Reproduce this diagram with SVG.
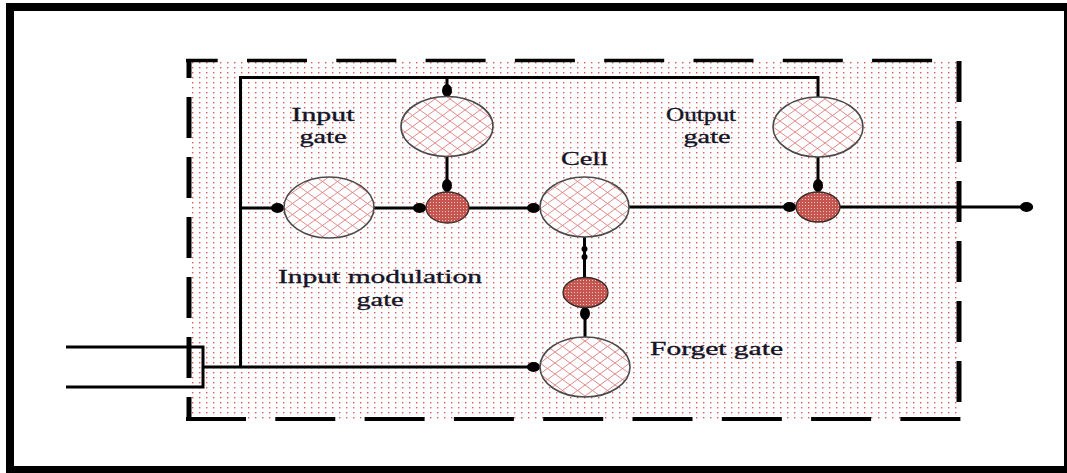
<svg xmlns="http://www.w3.org/2000/svg" width="1067" height="473" viewBox="0 0 1067 473">
<style>
.ln{fill:none;stroke:#000;stroke-width:3}
.gate{fill:url(#hatch);stroke:#4a4a4a;stroke-width:1.6}
.mul{fill:url(#dots);stroke:#3a2a2a;stroke-width:1.3}
.edge{fill:none;stroke:#000}
.lbl{font-family:"Liberation Serif","Times New Roman",serif;font-size:19px;fill:#141428;stroke:#141428;stroke-width:0.35}
</style>
<defs>
<pattern id="bgdots" width="7" height="5" patternUnits="userSpaceOnUse">
<rect width="7" height="5" fill="#fff"/>
<rect x="3" y="2" width="1.4" height="1.4" fill="#dd5a5a"/>
</pattern>
<pattern id="hatch" width="15" height="11" patternUnits="userSpaceOnUse">
<rect width="15" height="11" fill="#fff"/>
<path d="M0,0 L15,11 M0,11 L15,0" stroke="#dc7c7c" stroke-width="0.9"/>
</pattern>
<pattern id="dots" width="3" height="3" patternUnits="userSpaceOnUse">
<rect width="3" height="3" fill="#c4564f"/>
<rect x="1" y="1" width="1" height="1" fill="#f1c3bf"/>
</pattern>
<marker id="oval" viewBox="0 0 13 10" markerWidth="13" markerHeight="10" refX="13" refY="5" markerUnits="userSpaceOnUse" orient="auto">
<ellipse cx="6.5" cy="5" rx="6.5" ry="5" fill="#000"/>
</marker>
</defs>
<rect width="1067" height="473" fill="#fff"/>
<rect x="10" y="7" width="1058" height="463" fill="none" stroke="#000" stroke-width="8"/>
<rect x="187" y="59" width="774" height="362" fill="url(#bgdots)"/>
<g id="connectors">
<path class="ln" d="M240.5,367 V77.5 H818 V97"/>
<path class="ln" d="M447,77.5 V97" marker-end="url(#oval)"/>
<path class="ln" d="M240.5,208 H284" marker-end="url(#oval)"/>
<path class="ln" d="M373,208 H426" marker-end="url(#oval)"/>
<path class="ln" d="M447,157 V192" marker-end="url(#oval)"/>
<path class="ln" d="M469,208 H540" marker-end="url(#oval)"/>
<path class="ln" d="M629,207 H796" marker-end="url(#oval)"/>
<path class="ln" d="M818,157 V192" marker-end="url(#oval)"/>
<path class="ln" d="M840,207 H1033" marker-end="url(#oval)"/>
<path class="ln" d="M584.5,237 V278"/>
<ellipse cx="584.5" cy="249" rx="3" ry="3" fill="#000"/>
<ellipse cx="584.5" cy="257" rx="3" ry="3" fill="#000"/>
<path class="ln" d="M585,337 V307" marker-end="url(#oval)"/>
<path class="ln" d="M203,367 H540" marker-end="url(#oval)"/>
<path class="ln" d="M66,347 H203 V387 H66" stroke-width="3.5"/>
</g>
<g id="box">
<line class="edge" x1="186" y1="60.5" x2="961" y2="60.5" stroke-width="3.5" stroke-dasharray="60 29.3" stroke-dashoffset="28.3"/>
<line class="edge" x1="186" y1="419" x2="961" y2="419" stroke-width="4" stroke-dasharray="60 29.3"/>
<line class="edge" x1="189" y1="59" x2="189" y2="421" stroke-width="5" stroke-dasharray="41 19" stroke-dashoffset="22"/>
<line class="edge" x1="959" y1="59" x2="959" y2="421" stroke-width="5" stroke-dasharray="41 19" stroke-dashoffset="-2"/>
</g>
<g id="input-gate"><ellipse class="gate" cx="447" cy="126.5" rx="46" ry="30"/></g>
<g id="input-modulation-gate"><ellipse class="gate" cx="329" cy="207.5" rx="45" ry="30.5"/></g>
<g id="mult-input"><ellipse class="mul" cx="447.5" cy="207.5" rx="21.5" ry="15.5"/></g>
<g id="cell"><ellipse class="gate" cx="584.5" cy="207" rx="44.5" ry="30"/></g>
<g id="output-gate"><ellipse class="gate" cx="818" cy="127" rx="45" ry="30"/></g>
<g id="mult-output"><ellipse class="mul" cx="818" cy="207" rx="22" ry="15"/></g>
<g id="mult-forget"><ellipse class="mul" cx="585.5" cy="292.5" rx="22.5" ry="15"/></g>
<g id="forget-gate"><ellipse class="gate" cx="585" cy="367" rx="45" ry="30"/></g>
<g id="labels">
<text class="lbl" x="323" y="121" text-anchor="middle" textLength="63" lengthAdjust="spacingAndGlyphs">Input</text>
<text class="lbl" x="323" y="143" text-anchor="middle" textLength="47" lengthAdjust="spacingAndGlyphs">gate</text>
<text class="lbl" x="701" y="121" text-anchor="middle" textLength="70" lengthAdjust="spacingAndGlyphs">Output</text>
<text class="lbl" x="707" y="143" text-anchor="middle" textLength="47" lengthAdjust="spacingAndGlyphs">gate</text>
<text class="lbl" x="584.5" y="165" text-anchor="middle" textLength="47" lengthAdjust="spacingAndGlyphs">Cell</text>
<text class="lbl" x="380" y="283" text-anchor="middle" textLength="204" lengthAdjust="spacingAndGlyphs">Input modulation</text>
<text class="lbl" x="380" y="306" text-anchor="middle" textLength="47" lengthAdjust="spacingAndGlyphs">gate</text>
<text class="lbl" x="650" y="355" textLength="133" lengthAdjust="spacingAndGlyphs">Forget gate</text>
</g>
</svg>
